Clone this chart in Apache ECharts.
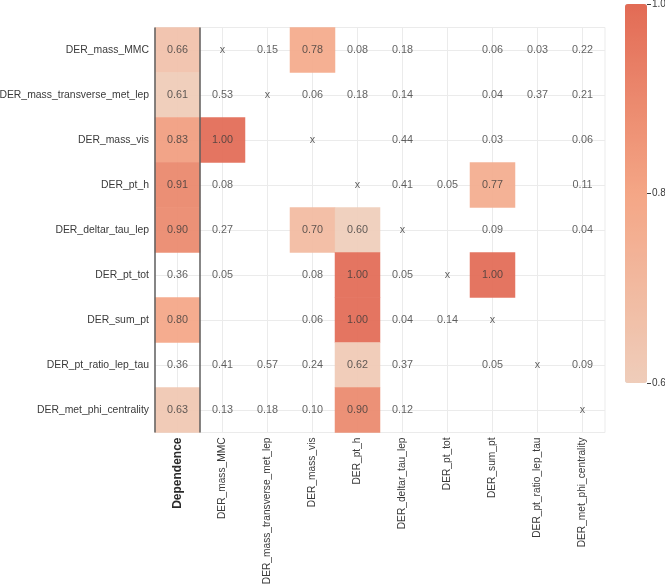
<!DOCTYPE html>
<html>
<head>
<meta charset="utf-8">
<script src="https://cdn.jsdelivr.net/npm/echarts@6/dist/echarts.min.js"></script>
<style>
  html, body { margin: 0; padding: 0; background: #fff; }
  #main { width: 665px; height: 585px; }
</style>
</head>
<body>
<div id="main"></div>
<script>
// columns of the matrix (x axis)
const cols = ['Dependence', 'DER_mass_MMC', 'DER_mass_transverse_met_lep', 'DER_mass_vis', 'DER_pt_h',
  'DER_deltar_tau_lep', 'DER_pt_tot', 'DER_sum_pt', 'DER_pt_ratio_lep_tau', 'DER_met_phi_centrality'];
// rows (y axis, top to bottom)
const rows = ['DER_mass_MMC', 'DER_mass_transverse_met_lep', 'DER_mass_vis', 'DER_pt_h', 'DER_deltar_tau_lep',
  'DER_pt_tot', 'DER_sum_pt', 'DER_pt_ratio_lep_tau', 'DER_met_phi_centrality'];

// one array per row, null = empty cell, 'x' = diagonal
const values = [
  [0.66, 'x', 0.15, 0.78, 0.08, 0.18, null, 0.06, 0.03, 0.22],
  [0.61, 0.53, 'x', 0.06, 0.18, 0.14, null, 0.04, 0.37, 0.21],
  [0.83, 1.00, null, 'x', null, 0.44, null, 0.03, null, 0.06],
  [0.91, 0.08, null, null, 'x', 0.41, 0.05, 0.77, null, 0.11],
  [0.90, 0.27, null, 0.70, 0.60, 'x', null, 0.09, null, 0.04],
  [0.36, 0.05, null, 0.08, 1.00, 0.05, 'x', 1.00, null, null],
  [0.80, null, null, 0.06, 1.00, 0.04, 0.14, 'x', null, null],
  [0.36, 0.41, 0.57, 0.24, 0.62, 0.37, null, 0.05, 'x', 0.09],
  [0.63, 0.13, 0.18, 0.10, 0.90, 0.12, null, null, null, 'x']
];

// colour scale range, only cells inside it get a colour
const scaleMin = 0.6;
const scaleMax = 1.0;

let cellData = [];
let labelData = [];
values.forEach((row, r) => {
  row.forEach((v, c) => {
    if (v === null) return;
    if (v === 'x') {
      labelData.push({ value: [c, r], text: 'x' });
    } else {
      if (v >= scaleMin) cellData.push([c, r, v]);
      labelData.push({ value: [c, r], text: v.toFixed(2) });
    }
  });
});

const font = '"Liberation Sans", Arial, Helvetica, sans-serif';
const textColor = '#3a3a3a';

var myChart = echarts.init(document.getElementById('main'));

let option = {
  backgroundColor: '#fff',
  animation: false,
  textStyle: { fontFamily: font },
  grid: [
    { left: 155, top: 27.5, width: 450, height: 405, show: true, borderColor: '#ebebeb', borderWidth: 1,
      outerBoundsMode: 'none', containLabel: false },
    { left: 625, top: 4, width: 22, height: 379, outerBoundsMode: 'none', containLabel: false }
  ],
  xAxis: [
    {
      type: 'category', data: cols, gridIndex: 0,
      axisLine: { show: false }, axisTick: { show: false },
      splitLine: { show: true, alignWithLabel: true, lineStyle: { color: '#ebebeb', width: 1 } },
      axisLabel: {
        interval: 0, rotate: 90, margin: 5, fontSize: 10.2, color: textColor, fontFamily: font,
        formatter: function (v) {
          return v === 'Dependence' ? '{b|' + v + '}' : v;
        },
        rich: { b: { fontWeight: 'bold', fontSize: 12, color: '#2a2a2a', fontFamily: font } }
      }
    },
    { type: 'value', gridIndex: 0, min: 0, max: 10, show: false },
    { type: 'value', gridIndex: 1, min: 0, max: 1, show: false }
  ],
  yAxis: [
    {
      type: 'category', data: rows, gridIndex: 0, inverse: true,
      axisLine: { show: false }, axisTick: { show: false },
      splitLine: { show: true, alignWithLabel: true, lineStyle: { color: '#ebebeb', width: 1 } },
      axisLabel: { interval: 0, margin: 6, fontSize: 10.4, color: textColor, fontFamily: font }
    },
    { type: 'value', gridIndex: 0, min: 0, max: 1, show: false },
    {
      type: 'value', gridIndex: 1, position: 'right', min: scaleMin, max: scaleMax, interval: 0.2,
      axisLine: { show: false, onZero: false },
      axisTick: { show: true, inside: false, length: 4, lineStyle: { color: textColor } },
      splitLine: { show: false },
      axisLabel: {
        margin: 5, fontSize: 10, color: textColor, fontFamily: font,
        formatter: function (v) { return v.toFixed(1); }
      },
      z: 10
    }
  ],
  visualMap: {
    type: 'continuous',
    seriesIndex: 0,
    min: scaleMin,
    max: scaleMax,
    calculable: false,
    orient: 'vertical',
    left: 610,
    top: -11,
    itemWidth: 22,
    itemHeight: 379,
    inRange: { color: ['#efcdba', '#f4a686', '#e26b55'] }
  },
  series: [
    {
      name: 'cells',
      type: 'heatmap',
      xAxisIndex: 0, yAxisIndex: 0,
      data: cellData,
      itemStyle: { opacity: 0.93 },
      label: { show: false },
      emphasis: { disabled: true },
      silent: true
    },
    {
      name: 'labels',
      type: 'scatter',
      xAxisIndex: 0, yAxisIndex: 0,
      data: labelData,
      symbol: 'rect',
      symbolSize: 1,
      itemStyle: { color: 'rgba(0,0,0,0)' },
      label: {
        show: true, position: 'inside', fontSize: 10.8, color: textColor, fontFamily: font,
        formatter: function (p) { return p.data.text; }
      },
      emphasis: { disabled: true },
      silent: true,
      z: 5
    },
    {
      // dark borders around the Dependence column
      name: 'frame',
      type: 'scatter',
      xAxisIndex: 1, yAxisIndex: 1,
      data: [[0, 0]],
      symbolSize: 0,
      silent: true,
      markLine: {
        silent: true,
        symbol: ['none', 'none'],
        label: { show: false },
        lineStyle: { color: '#5f5f5f', width: 1.5, type: 'solid' },
        emphasis: { disabled: true },
        data: [{ xAxis: 0 }, { xAxis: 1 }]
      },
      z: 6
    }
  ]
};

myChart.setOption(option);
</script>
</body>
</html>
